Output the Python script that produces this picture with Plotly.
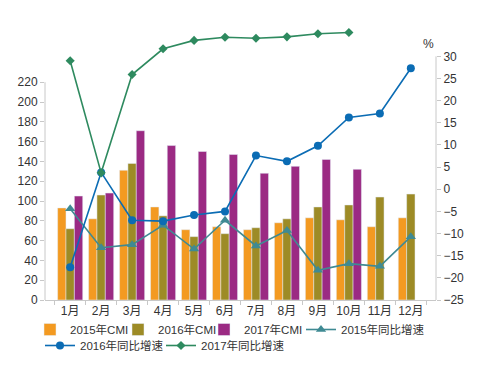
import plotly.graph_objects as go

months = ["1月", "2月", "3月", "4月", "5月", "6月", "7月", "8月", "9月", "10月", "11月", "12月"]

cmi_2015 = [93, 82, 131, 94, 71, 74, 71, 78, 83, 81, 74, 83]
cmi_2016 = [72, 106, 138, 85, 64, 67, 73, 82, 94, 96, 104, 107]
cmi_2017 = [105, 108, 171, 156, 150, 147, 128, 135, 142, 132]

growth_2015 = [-4.4, -13.2, -12.5, -8.1, -13.5, -7.0, -12.8, -9.3, -18.3, -16.8, -17.4, -10.7]
growth_2016 = [-17.6, 3.8, -7.0, -7.2, -5.8, -5.0, 7.6, 6.3, 9.8, 16.2, 17.1, 27.3]
growth_2017 = [29.0, 3.7, 25.9, 31.7, 33.6, 34.3, 34.1, 34.4, 35.1, 35.4]

left_ticks = [0, 20, 40, 60, 80, 100, 120, 140, 160, 180, 200, 220]
right_ticks = [-25, -20, -15, -10, -5, 0, 5, 10, 15, 20, 25, 30]

FONT = "Liberation Sans, Arial, Noto Sans CJK SC, sans-serif"
AXIS_COLOR = "#c8c8c8"
TEXT_COLOR = "#333333"
W, H = 486, 378

fig = go.Figure()
fig.add_trace(go.Bar(x=months, y=cmi_2015, name="2015年CMI", marker_color="#F39A21", legend="legend"))
fig.add_trace(go.Bar(x=months, y=cmi_2016, name="2016年CMI", marker_color="#9D8B26", legend="legend2"))
fig.add_trace(go.Bar(x=months[:len(cmi_2017)], y=cmi_2017, name="2017年CMI", marker_color="#9B2A83",
                     legend="legend3"))

fig.add_trace(go.Scatter(x=months, y=growth_2015, name="2015年同比增速", yaxis="y2", legend="legend4",
                         mode="lines+markers", line=dict(color="#3F8A93", width=1.6),
                         marker=dict(symbol="triangle-up", size=9, color="#3F8A93")))
fig.add_trace(go.Scatter(x=months, y=growth_2016, name="2016年同比增速", yaxis="y2", legend="legend5",
                         mode="lines+markers", line=dict(color="#0B6CB4", width=1.6),
                         marker=dict(symbol="circle", size=8, color="#0B6CB4")))
fig.add_trace(go.Scatter(x=months[:len(growth_2017)], y=growth_2017, name="2017年同比增速", yaxis="y2",
                         legend="legend6",
                         mode="lines+markers", line=dict(color="#2E8A5F", width=1.6),
                         marker=dict(symbol="diamond", size=7, color="#2E8A5F")))

# plot area: bottom at y=300 px, top at y=26 px  -> 274 px tall
left_max = 274 / 0.99
right_min, right_max = -25, -25 + 274 / 4.43


def leg(text_x, row_top):
    return dict(orientation="h", xref="container", yref="container",
                x=(text_x - 40) / W, y=1 - row_top / H, xanchor="left", yanchor="top",
                font=dict(size=11.5, color=TEXT_COLOR), itemwidth=30,
                bgcolor="rgba(0,0,0,0)", borderwidth=0)


ROW1, ROW2 = 315, 331

fig.update_layout(
    width=W, height=H,
    margin=dict(l=45, r=50, t=26, b=78, autoexpand=False),
    paper_bgcolor="white", plot_bgcolor="white",
    font=dict(family=FONT, size=12, color=TEXT_COLOR),
    barmode="group", bargap=0.19, bargroupgap=0,
    showlegend=True,
    legend=leg(70, ROW1),
    legend2=leg(158, ROW1),
    legend3=leg(244, ROW1),
    legend4=leg(341, ROW1),
    legend5=leg(80, ROW2),
    legend6=leg(201, ROW2),
    xaxis=dict(type="category", showline=True, linecolor=AXIS_COLOR, linewidth=1,
               ticks="outside", tickson="boundaries", ticklen=4, tickcolor=AXIS_COLOR,
               tickangle=0, showgrid=False, tickfont=dict(size=12, color=TEXT_COLOR),
               automargin=False),
    yaxis=dict(range=[0, left_max], tickvals=left_ticks, showgrid=False, zeroline=False,
               showline=False, ticks="outside", ticklen=4, tickcolor=AXIS_COLOR,
               tickfont=dict(size=12, color=TEXT_COLOR), automargin=False),
    yaxis2=dict(range=[right_min, right_max], tickvals=right_ticks, overlaying="y", side="right",
                showgrid=False, zeroline=False, showline=False, ticks="outside", ticklen=4,
                tickcolor=AXIS_COLOR, tickfont=dict(size=12, color=TEXT_COLOR), automargin=False),
)

# axis lines spanning only the ticked ranges
fig.add_shape(type="line", xref="paper", yref="y", x0=0, x1=0, y0=0, y1=left_ticks[-1],
              line=dict(color=AXIS_COLOR, width=1))
fig.add_shape(type="line", xref="paper", yref="y2", x0=1, x1=1, y0=right_ticks[0], y1=right_ticks[-1],
              line=dict(color=AXIS_COLOR, width=1))
fig.add_annotation(text="%", xref="paper", yref="y2", x=1, y=right_ticks[-1], xanchor="right",
                   yanchor="bottom", yshift=3, showarrow=False, font=dict(size=12, color=TEXT_COLOR))

fig.write_html("out.html", config={"displayModeBar": False},
               post_script="document.body.style.margin='0';")
